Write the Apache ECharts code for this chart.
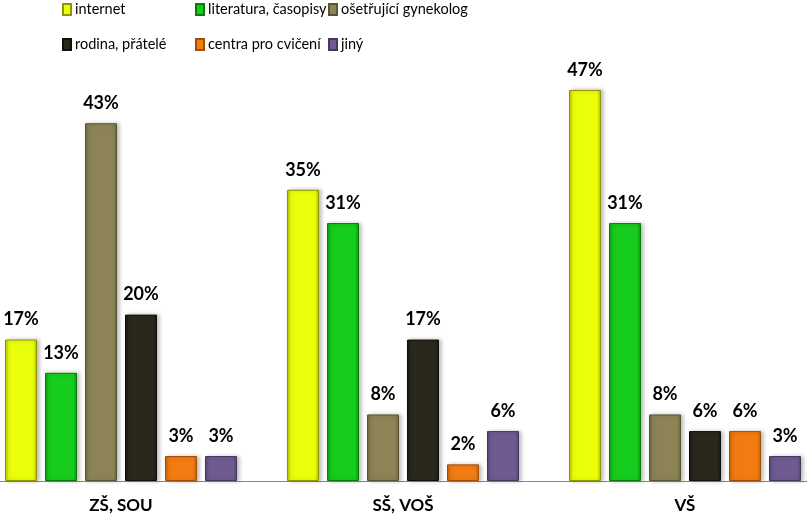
<!DOCTYPE html>
<html>
<head>
<meta charset="utf-8">
<script src="https://cdn.jsdelivr.net/npm/echarts@6/dist/echarts.min.js"></script>
<style>html,body{margin:0;padding:0;background:#fff;overflow:hidden;width:807px;height:516px}#c{width:846px;height:516px;margin-left:-20px}</style>
</head>
<body>
<div id="c"></div>
<script>
const categories = ['ZŠ, SOU', 'SŠ, VOŠ', 'VŠ'];
const seriesNames = ['internet', 'literatura, časopisy', 'ošetřující gynekolog', 'rodina, přátelé', 'centra pro cvičení', 'jiný'];
const internet = [17, 35, 47];
const literatura = [13, 31, 31];
const gynekolog = [43, 8, 8];
const rodina = [20, 17, 6];
const centra = [3, 2, 6];
const jiny = [3, 6, 3];

const values = [internet, literatura, gynekolog, rodina, centra, jiny];
const colors = [
  ['#c9d600', '#eaff0a', '#b0bb00', '#8f9600'],
  ['#0ea812', '#16cc1c', '#0c9810', '#097a0c'],
  ['#7a7348', '#8c8457', '#6d663f', '#5a5434'],
  ['#1c1a12', '#2a271c', '#18160f', '#100f0a'],
  ['#d86a08', '#f27c12', '#c66008', '#a04d06'],
  ['#5e4b7e', '#705a92', '#564673', '#45385d']
];
const font = 'Lato, "Open Sans", sans-serif';
const offsetX = 20;

function grad(c) {
  return {
    type: 'linear', x: 0, y: 0, x2: 1, y2: 0,
    colorStops: [
      {offset: 0, color: c[2]},
      {offset: 0.12, color: c[1]},
      {offset: 0.88, color: c[1]},
      {offset: 1, color: c[2]}
    ]
  };
}

const series = seriesNames.map((name, i) => ({
  name: name,
  type: 'bar',
  data: values[i],
  barWidth: 32,
  barGap: '25%',
  itemStyle: {
    color: grad(colors[i]),
    borderColor: colors[i][3],
    borderWidth: 1,
    shadowColor: 'rgba(0,0,0,0.25)',
    shadowBlur: 4,
    shadowOffsetX: 2,
    shadowOffsetY: 0
  },
  label: {
    show: true,
    position: 'top',
    distance: 11,
    formatter: '{c}%',
    fontFamily: font,
    fontWeight: 'bold',
    fontSize: 18,
    color: '#000'
  }
}));

const legendPos = [[62, 2], [195, 2], [328, 2], [62, 37], [195, 37], [328, 37]];
const legends = seriesNames.map((name, i) => ({
  data: [{name: name, icon: 'rect'}],
  left: legendPos[i][0] + offsetX,
  top: legendPos[i][1],
  padding: 0,
  itemWidth: 8,
  itemHeight: 11,
  textStyle: {fontFamily: font, fontSize: 14.5, color: '#000', padding: [0, 0, 0, -1]},
  selectedMode: false
}));

const chart = echarts.init(document.getElementById('c'));
chart.setOption({
  animation: false,
  legend: legends,
  grid: {left: 0, right: 0, top: 65, bottom: 35, containLabel: false},
  xAxis: {
    type: 'category',
    data: categories,
    axisLine: {lineStyle: {color: '#888', width: 1}},
    axisTick: {show: false},
    axisLabel: {fontFamily: font, fontWeight: 'bold', fontSize: 17, color: '#000', margin: 16}
  },
  yAxis: {
    type: 'value', min: 0, max: 50,
    show: false,
    splitLine: {show: false}
  },
  series: series
});
</script>
</body>
</html>
